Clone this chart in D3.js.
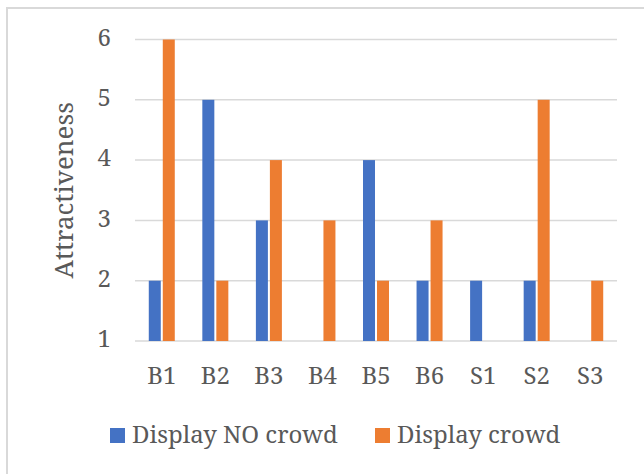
<!DOCTYPE html>
<html>
<head>
<meta charset="utf-8">
<script src="https://cdn.jsdelivr.net/npm/d3@7/dist/d3.min.js"></script>
<style>
  html, body { margin: 0; padding: 0; background: #fff; }
  svg { display: block; }
</style>
</head>
<body>
<svg id="chart" width="644" height="474"></svg>
<script>
// Categories and series values (null = no bar)
const categories = ["B1", "B2", "B3", "B4", "B5", "B6", "S1", "S2", "S3"];
const seriesNames = ["Display NO crowd", "Display crowd"];
const noCrowd = [2, 5, 3, null, 4, 2, 2, 2, null];
const crowd = [6, 2, 4, 3, 2, 3, null, 5, 2];
const yTicks = [1, 2, 3, 4, 5, 6];
const colors = ["#4472C4", "#ED7D31"];

const series = [noCrowd, crowd];
const FONT = '"Noto Serif", "Liberation Serif", serif';
const TEXT = "#595959";

const svg = d3.select("#chart");

// Chart frame
svg.append("rect")
  .attr("x", 7).attr("y", 8)
  .attr("width", 660).attr("height", 490)
  .attr("fill", "#fff")
  .attr("stroke", "#d9d9d9")
  .attr("stroke-width", 2);

const plot = { left: 135, right: 617, top: 39.5, bottom: 341 };

const x0 = d3.scaleBand().domain(categories).range([plot.left, plot.right]).padding(0);
const x1 = d3.scaleBand().domain(d3.range(series.length))
  .range([-13, 13]).paddingInner(2 / 14).paddingOuter(0);
const y = d3.scaleLinear().domain([1, 6]).range([plot.bottom, plot.top]);

// Gridlines
svg.append("g")
  .selectAll("line")
  .data(yTicks)
  .join("line")
  .attr("x1", plot.left).attr("x2", plot.right)
  .attr("y1", d => y(d)).attr("y2", d => y(d))
  .attr("stroke", "#d9d9d9")
  .attr("stroke-width", 1.5);

function styleText(sel, size) {
  sel.style("font-family", FONT)
     .style("font-size", size + "px")
     .style("fill", TEXT);
}

// Y axis labels
const yAxis = d3.axisLeft(y).tickValues(yTicks).tickSize(0).tickPadding(0).tickFormat(d3.format("d"));
svg.append("g")
  .attr("transform", `translate(${plot.left - 24},-2)`)
  .call(yAxis)
  .call(g => g.select(".domain").remove())
  .call(g => g.selectAll("text").call(styleText, 24));

// X axis labels
const xAxis = d3.axisBottom(x0).tickSize(0).tickPadding(0);
svg.append("g")
  .attr("transform", `translate(0,${plot.bottom})`)
  .call(xAxis)
  .call(g => g.select(".domain").remove())
  .call(g => g.selectAll("text")
    .attr("dy", null)
    .attr("y", 43)
    .call(styleText, 24));

// Bars
const groups = svg.append("g")
  .selectAll("g")
  .data(categories)
  .join("g")
  .attr("transform", d => `translate(${x0(d) + x0.bandwidth() / 2},0)`);

groups.selectAll("rect")
  .data((c, i) => series.map((s, k) => ({ k, v: s[i] })).filter(d => d.v != null))
  .join("rect")
  .attr("x", d => x1(d.k))
  .attr("width", x1.bandwidth())
  .attr("y", d => y(d.v))
  .attr("height", d => y(1) - y(d.v))
  .attr("fill", d => colors[d.k]);

// Axis title
svg.append("text")
  .attr("transform", `translate(73,${(plot.top + plot.bottom) / 2}) rotate(-90)`)
  .attr("text-anchor", "middle")
  .call(styleText, 26)
  .text("Attractiveness");

// Legend
const legendX = [110, 375];
const legend = svg.append("g")
  .selectAll("g")
  .data(seriesNames)
  .join("g")
  .attr("transform", (d, i) => `translate(${legendX[i]},428)`);
legend.append("rect")
  .attr("width", 15).attr("height", 15)
  .attr("fill", (d, i) => colors[i]);
legend.append("text")
  .attr("x", 22).attr("y", 15)
  .call(styleText, 24)
  .text(d => d);
</script>
</body>
</html>
